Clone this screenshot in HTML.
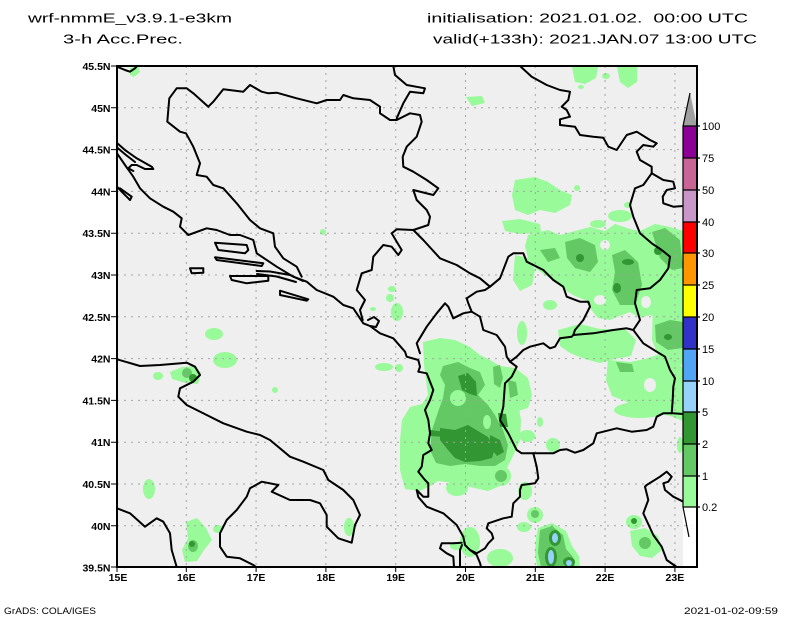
<!DOCTYPE html>
<html><head><meta charset="utf-8"><style>
html,body{margin:0;padding:0;background:#fff;}
svg{display:block;}
text{font-family:"Liberation Sans",sans-serif;fill:#000;}
</style></head><body>
<svg width="800" height="618" viewBox="0 0 800 618" xmlns="http://www.w3.org/2000/svg">
<rect x="0" y="0" width="800" height="618" fill="#fff"/>
<!-- header -->
<text x="28" y="22.5" font-size="13" textLength="204" lengthAdjust="spacingAndGlyphs">wrf-nmmE_v3.9.1-e3km</text>
<text x="63" y="43.5" font-size="13" textLength="120" lengthAdjust="spacingAndGlyphs">3-h Acc.Prec.</text>
<text x="427" y="22.5" font-size="13" textLength="321" lengthAdjust="spacingAndGlyphs">initialisation: 2021.01.02.&#160; 00:00 UTC</text>
<text x="433" y="43.5" font-size="13" textLength="324" lengthAdjust="spacingAndGlyphs">valid(+133h): 2021.JAN.07 13:00 UTC</text>

<!-- map background -->
<rect x="117" y="66" width="580" height="501" fill="#efefef"/>
<rect x="683" y="507" width="14" height="60" fill="#fff"/>

<!-- precipitation: light green -->
<g fill="#98fa98">
<path d="M423,342 L440,338 L455,340 L470,347 L480,355 L490,360 L500,366 L506,376 L512,388 L518,403 L521,420 L520,440 L513,456 L506,470 L500,486 L488,491 L470,487 L455,483 L438,481 L430,486 L420,491 L405,489 L400,470 L400,440 L402,420 L410,407 L422,404 L428,395 L426,380 L424,365 Z"/>
<path d="M500,366 L515,368 L528,378 L532,395 L528,408 L515,412 L505,400 Z"/>
<path d="M515,180 L535,177 L548,182 L560,190 L572,195 L570,205 L555,213 L540,210 L528,215 L515,210 L512,195 Z"/>
<path d="M502,221 L520,219 L540,224 L541,233 L520,234 L505,231 Z"/>
<path d="M528,235 L548,230 L560,235 L575,231 L590,227 L605,231 L615,224 L630,229 L640,231 L655,224 L670,227 L683,231 L683,300 L670,310 L660,318 L650,315 L640,318 L630,312 L622,315 L610,320 L598,318 L590,308 L585,300 L575,296 L565,290 L555,282 L545,275 L535,268 L528,258 L525,246 Z"/>
<path d="M558,330 L580,324 L600,329 L625,329 L636,340 L631,356 L615,359 L600,363 L585,359 L570,353 L560,346 Z"/>
<path d="M608,360 L630,362 L645,359 L660,354 L675,359 L683,368 L683,421 L670,416 L655,413 L640,411 L625,401 L612,396 L606,380 Z"/>
<path d="M653,300 L683,296 L683,365 L660,360 L652,340 Z"/>
<path d="M515,255 L528,258 L535,270 L532,285 L520,291 L513,280 Z"/>
<ellipse cx="522" cy="333" rx="5" ry="12"/>
<ellipse cx="550" cy="305" rx="7" ry="5"/>
<ellipse cx="620" cy="216" rx="12" ry="6"/>
<ellipse cx="598" cy="224" rx="8" ry="4"/>
<ellipse cx="628" cy="205" rx="4" ry="3"/>
<ellipse cx="577" cy="188" rx="3" ry="3"/>
<path d="M572,67 L598,67 L596,78 L585,84 L575,82 Z"/>
<path d="M617,67 L637,67 L637,82 L628,88 L620,82 Z"/>
<path d="M466,97 L482,96 L485,103 L472,106 Z"/>
<ellipse cx="606" cy="76" rx="4" ry="3"/>
<ellipse cx="581" cy="87" rx="3" ry="2"/>
<ellipse cx="640" cy="410" rx="26" ry="8"/>
<!-- greece/albania south -->
<path d="M538,528 L552,523 L566,531 L572,546 L579,556 L580,567 L537,567 L535,553 L536,538 Z"/>
<ellipse cx="524" cy="527" rx="7" ry="5"/>
<ellipse cx="535" cy="515" rx="8" ry="8"/>
<ellipse cx="634" cy="522" rx="8" ry="7"/>
<path d="M630,531 L645,528 L658,536 L662,550 L652,558 L640,556 L632,546 Z"/>
<ellipse cx="470" cy="542" rx="10" ry="15"/>
<ellipse cx="500" cy="558" rx="13" ry="9"/>
<ellipse cx="501" cy="476" rx="10" ry="10"/>
<ellipse cx="525" cy="491" rx="7" ry="9"/>
<ellipse cx="527" cy="436" rx="8" ry="6"/>
<ellipse cx="553" cy="445" rx="7" ry="7"/>
<ellipse cx="540" cy="422" rx="3" ry="5"/>
<ellipse cx="457" cy="488" rx="11" ry="8"/>
<ellipse cx="456" cy="546" rx="6" ry="4"/>
<ellipse cx="680" cy="445" rx="3" ry="8"/>
<!-- italy and adriatic -->
<ellipse cx="214" cy="334" rx="9" ry="6"/>
<ellipse cx="225" cy="360" rx="12" ry="8"/>
<ellipse cx="158" cy="376" rx="5" ry="4"/>
<path d="M170,372 L182,367 L195,366 L201,373 L198,384 L186,383 L172,379 Z"/>
<ellipse cx="149" cy="489" rx="6" ry="10"/>
<path d="M186,522 L197,518 L206,528 L212,540 L204,550 L197,561 L185,562 L182,550 L188,538 Z"/>
<ellipse cx="218" cy="529" rx="5" ry="4"/>
<ellipse cx="275" cy="390" rx="3" ry="3"/>
<path d="M130,68 L138,66 L140,72 L134,77 L130,75 Z"/>
<ellipse cx="349" cy="527" rx="5" ry="9"/>
<ellipse cx="323" cy="232" rx="3" ry="3"/>
<ellipse cx="373" cy="309" rx="3" ry="2"/>
<ellipse cx="392" cy="289" rx="4" ry="3"/>
<ellipse cx="390" cy="298" rx="4" ry="4"/>
<ellipse cx="397" cy="312" rx="6" ry="9"/>
<ellipse cx="384" cy="367" rx="9" ry="4"/>
<ellipse cx="399" cy="368" rx="4" ry="4"/>
</g>
<!-- gray holes in east region -->
<g fill="#efefef">
<ellipse cx="548" cy="284" rx="8" ry="6"/>
<ellipse cx="600" cy="300" rx="6" ry="5"/>
<ellipse cx="646" cy="302" rx="5" ry="6"/>
<ellipse cx="605" cy="245" rx="5" ry="5"/>
<ellipse cx="590" cy="385" rx="8" ry="6"/>
<ellipse cx="650" cy="385" rx="6" ry="7"/>
</g>
<!-- mid green -->
<g fill="#64c864">
<path d="M443,366 L458,362 L470,368 L480,372 L485,385 L478,395 L488,405 L495,415 L503,430 L508,445 L505,460 L495,466 L480,466 L465,464 L450,466 L436,463 L430,450 L432,430 L438,412 L443,398 L445,385 L440,375 Z"/>
<path d="M493,367 L500,365 L503,378 L500,388 L494,384 Z"/>
<path d="M508,380 L516,382 L518,395 L510,398 Z"/>
<path d="M565,242 L580,238 L595,245 L598,262 L590,272 L575,268 L567,258 Z"/>
<path d="M612,255 L625,250 L638,262 L642,285 L635,305 L620,305 L612,290 L615,272 Z"/>
<path d="M652,232 L665,228 L680,240 L683,268 L672,270 L660,258 Z"/>
<path d="M655,325 L670,320 L683,322 L683,348 L668,350 L656,342 Z"/>
<path d="M540,250 L555,248 L560,258 L548,262 Z"/>
<path d="M616,362 L632,364 L634,372 L620,372 Z"/>
<ellipse cx="501" cy="476" rx="6" ry="6"/>
<path d="M540,530 L552,526 L563,535 L566,549 L573,557 L575,567 L541,567 L538,553 Z"/>
<ellipse cx="535" cy="514" rx="4" ry="4"/>
<ellipse cx="645" cy="543" rx="6" ry="6"/>
<ellipse cx="187" cy="373" rx="5" ry="5"/>
<ellipse cx="193" cy="546" rx="5" ry="6"/>
</g>
<!-- holes of light in mid -->
<g fill="#98fa98">
<ellipse cx="458" cy="398" rx="8" ry="8"/>
<ellipse cx="487" cy="422" rx="4" ry="7"/>
</g>
<!-- dark green -->
<g fill="#329632">
<path d="M458,376 L468,373 L476,382 L477,396 L470,394 L462,390 Z"/>
<path d="M440,428 L455,430 L468,425 L478,431 L488,437 L495,448 L492,458 L480,461 L465,462 L455,458 L448,450 L440,440 Z"/>
<path d="M490,435 L500,440 L504,452 L497,456 L490,447 Z"/>
<path d="M498,413 L506,414 L508,427 L500,427 Z"/>
<path d="M430,430 L446,432 L446,437 L430,436 Z"/>
<ellipse cx="580" cy="258" rx="4" ry="4"/>
<ellipse cx="617" cy="288" rx="4" ry="5"/>
<ellipse cx="628" cy="262" rx="6" ry="3"/>
<ellipse cx="658" cy="251" rx="4" ry="4"/>
<ellipse cx="668" cy="337" rx="4" ry="3"/>
<ellipse cx="634" cy="521" rx="3" ry="3"/>
<ellipse cx="555" cy="538" rx="6" ry="8"/>
<ellipse cx="551" cy="557" rx="6" ry="10"/>
<ellipse cx="569" cy="562" rx="6" ry="5"/>
<ellipse cx="193" cy="378" rx="4" ry="4"/>
<ellipse cx="192" cy="544" rx="3" ry="3"/>
</g>
<!-- light blue -->
<g fill="#96d2fa">
<ellipse cx="555" cy="538" rx="3" ry="5"/>
<ellipse cx="551" cy="557" rx="3" ry="7"/>
<ellipse cx="569" cy="563" rx="3" ry="3"/>
</g>

<!-- grid -->
<g stroke="#a4a4a4" stroke-width="1" stroke-dasharray="2 5" fill="none">
<path d="M186.3,66V567 M256.1,66V567 M325.9,66V567 M395.7,66V567 M465.5,66V567 M535.3,66V567 M605.1,66V567 M674.9,66V567"/>
<path d="M117,107.8H697 M117,149.6H697 M117,191.4H697 M117,233.2H697 M117,275H697 M117,316.8H697 M117,358.6H697 M117,400.4H697 M117,442.2H697 M117,484H697 M117,525.8H697"/>
</g>

<!-- map lines -->
<g stroke="#000" stroke-width="2" fill="none" stroke-linejoin="round" stroke-linecap="round">
<path d="M117,66.7 L125,70 L130,71.7 L135,68.3 L137,66"/>
<path d="M301.7,276.7 L296.7,266.7 L283.3,258.3 L275,246.7 L273.3,233.3 L260,228.3 L250,220 L236.7,203.3 L223.3,188.3 L213.3,185 L206.7,176.7 L196.7,175 L200,163.3 L193.3,146.7 L186,133.3 L180,131.7 L167.3,121.7 L169.3,98.3 L176.7,88.3 L186.7,88.3 L193.3,93.3 L208.3,106.7 L213.3,101.7 L223.3,89.3 L243.3,91.7 L250,85 L261.7,91.7 L268.3,93.3 L276.7,92.7 L296.7,98.3 L316.7,103.3 L326.7,100 L340,100 L343.3,95 L353.3,98.3 L370,100 L380,106.7 L380,113.3 L390,120 L396.7,120 L410,113.3 L420,115 L421.7,121.7 L416.7,136.7 L406.7,146.7 L402.7,156.7 L403.3,166.7 L413.3,171.7 L426.7,180 L438.3,188.3 L433.3,195 L413.3,190 L416.7,200 L426.7,210 L430,216.7 L428.3,225 L413.3,230 L396.7,229.3 L391.7,233.3 L396.7,241.7 L401.7,250 L398.3,255 L391.7,246.7 L383.3,245 L373.3,256.7 L371.7,270 L361.7,273.3 L356.7,290 L365,300 L360,310 L362.7,320"/>
<path d="M393.3,66 L395,75 L406.7,85 L425,88.3 L423.3,93.3 L410,91.7 L403.3,103.3 L396.7,118.3"/>
<path d="M117,153.3 L125,165 L133.3,176.7 L140,188.3 L150,198.3 L163.3,206.7 L173.3,211.7 L181.7,218.3 L180,226.7 L188.3,235 L206.7,228.3 L216.7,230 L230,235 L240,235 L253.3,240 L256.7,253.3 L276.7,266.7 L293.3,276.7 L306.7,281.7 L316.7,290 L333.3,296.7 L343.3,305 L353.3,308.3 L363.3,323.3 L370,326 L380,333.3 L393.3,338.3 L405,351.7 L406.7,356.7 L418.3,360 L420,366.7 L418.3,371.7 L426.7,373.3 L433.3,390 L430,400 L425,410 L428.3,420 L430,433.3 L428.3,443.3 L431.7,450 L423.3,455 L421.7,466.7 L418.3,471.7 L425,480 L428.3,483.3 L428.3,496.7 L423.3,496.7 L416.7,490 L418.3,497 L426.7,506.7 L443.3,513.3 L456.7,525 L463.3,536.7 L465,545 L470,550 L476.7,555 L480,563 L481,567"/>
<path d="M461.7,542.7 L453.3,543.3 L441.7,543.3 L440,548.3 L446.7,553.3 L453.3,556.7 L454,567 M460,567 L460,550 L462,545"/>
<path d="M368,320 L374,317 L379,321 L376,327 L370,326"/>
<path d="M256.7,271 L270,271.5 L290,275 L303,281 M257,274 L276.7,276.5 L296,282"/>
<!-- islands -->
<path d="M117,186.7 L121.7,191.7 L130,200 L131.7,196.7 L120,188.3"/>
<path d="M117,143 L125,150 L136.7,158.3 L151.7,166.7 L153.3,169 L145,169 L136.7,165 L131.7,165 L128.3,168.3 L133.3,171"/>
<path d="M117,147.5 L126,155 L135,162"/>
<path d="M215,242.7 L246.7,245 L248.3,250 L245,253.3 L218.3,250 Z"/>
<path d="M215,257.3 L263.3,263.3 L261.7,266 L216.7,260 Z"/>
<path d="M190,268.3 L203.3,268.3 L203.3,272.7 L191.7,273.3 Z"/>
<path d="M230,276 L268.3,276 L268.3,280.7 L246.7,283.3 L231.7,280 Z"/>
<path d="M280,290.7 L308.3,299.3 L306.7,300.7 L280,295 Z"/>
<!-- Montenegro / Serbia / Kosovo / Albania / Macedonia -->
<path d="M420,353.3 L416.7,343.3 L426.7,326.7 L436.7,313.3 L445,303.3 L448.3,306.7 L453.3,318.3 L463.3,313.3 L471.7,311.7 L480,316.7"/>
<path d="M413.3,230 L423.3,240 L440,258.3 L456.7,265 L470,273.3 L480,278.3 L490,286.7 L485,290 L476.7,291.7 L466.7,298.3 L468.3,303.3 L471.7,311.7"/>
<path d="M490,286.7 L500,278.3 L508.3,256.7 L513.3,253.3 L523.3,253.3 L526.7,261.7 L543.3,270 L553.3,280 L563.3,286.7 L566.7,296.7 L580,301.7 L588.3,301.7 L590,306.7 L583.3,320 L575,330 L573.3,335"/>
<path d="M573.3,335 L571.7,336.7 L560,338.3 L555,346.7 L550,348.3 L543.3,343.3 L530,346.7 L523.3,350 L516.7,356.7 L510,361.7"/>
<path d="M480,316.7 L483.3,330 L496.7,335 L505,346.7 L506.7,356.7 L510,361.7"/>
<path d="M510,361.7 L516.7,366.7 L511.7,376.7 L505,383.3 L503.3,406.7 L500,420 L508.3,433.3 L513.3,443.3 L516.7,450 L521.7,453.3 L533.3,453.3"/>
<path d="M533.3,453.3 L536.7,466.7 L538.3,478.3 L535,483.3 L521.7,485 L520,490 L520,496.7 L513.3,503.3 L511.7,516.7 L503.3,518.3 L488.3,523.3 L486.7,528.3 L491.7,533.3 L493.3,538.3 L488.3,543.3 L485,548.3 L476.7,553.3 L470,550"/>
<path d="M533.3,453.3 L553.3,453.3 L560,450 L566.7,449.3 L575,452.7 L583.3,450 L593.3,443.3 L596.7,433.3 L603.3,431.7 L616.7,428.3 L631.7,431.7 L646.7,430 L653.3,426.7 L656.7,416.7 L663.3,413.3 L672.7,413.3 L683.3,414 L697,414"/>
<path d="M573.3,335 L593.3,333.3 L613.3,330 L626.7,328.3 L633.3,330 L643.3,343.3 L656.7,351.7 L665,356.7 L670,370 L675,378.3 L673.3,386.7 L672.7,400 L671.7,413.3"/>
<path d="M651.7,173.3 L643.3,185 L635,188.3 L630,205 L633.3,216.7 L640,233.3 L651.7,243.3 L661.7,250 L670,256.7 L668.3,268.3 L660,280 L650,288.3 L636.7,290 L635,303.3 L640,320 L633.3,330"/>
<path d="M520,66 L531.7,76.7 L546.7,85 L560,90 L570,91.7 L568.3,100 L561.7,106.7 L566.7,110 L570,116.7 L560,119.3 L560,125 L575,126.7 L580,135 L593.3,136.7 L603.3,137.7 L608.3,146.7 L616.7,150 L626.7,135 L636.7,131.7 L650,140 L656.7,143.3 L653.3,146.7 L643.3,145 L636.7,151.7 L640,160 L651.7,166.7 L651.7,173.3 L663.3,180 L673.3,181.7 L675,188.3 L666.7,190 L662.7,196.7 L663.3,203.3 L673.3,206.7 L683.3,206 L697,203.3"/>
<path d="M645,486.7 L646.7,485 L660,476.7 L666.7,471.7 L671.7,476.7 L668.3,481.7 L663.3,483.3 L665,490 L673.3,496.7 L683.3,501.7"/>
<path d="M645,486.7 L648.3,500 L643.3,513.3 L653.3,535 L661.7,546.7 L666.7,560 L676.7,567"/>
<!-- Italy -->
<path d="M117,359.3 L140,366 L160,365 L186.7,362.7 L195,366.7 L200,375 L193.3,381.7 L180,388.3 L178.3,396.7 L186.7,405 L206.7,415 L223.3,423.3 L246.7,431.7 L260,435 L270,440 L290,456.7 L303.3,461.7 L323.3,470 L328.3,480 L343.3,490 L353.3,500 L360,515 L355,525 L351.7,542.7 L338.3,538.3 L326.7,526.7 L326.7,515 L320,503.3 L310,500 L290,500 L271.7,491.7 L278.3,485 L261.7,481.7 L250,488.3 L246.7,496.7 L236.7,510 L226.7,520 L220,533.3 L220,546.7 L226.7,556.7 L240,558.3 L253.3,565 L256,567"/>
<path d="M117,508.3 L130,513.3 L145,526.7 L156.7,518.3 L163.3,521.7 L170,533.3 L171.7,550 L176.7,567"/>
</g>

<!-- colorbar -->
<g stroke="none">
<path d="M683,126 L697,126 L690,93 Z" fill="#a0a0a0"/>
<rect x="683" y="126" width="14" height="32" fill="#8c0096"/>
<rect x="683" y="158" width="14" height="32" fill="#c86496"/>
<rect x="683" y="190" width="14" height="32" fill="#c896c8"/>
<rect x="683" y="222" width="14" height="31" fill="#ff0000"/>
<rect x="683" y="253" width="14" height="32" fill="#ff9600"/>
<rect x="683" y="285" width="14" height="32" fill="#ffff00"/>
<rect x="683" y="317" width="14" height="32" fill="#3232c8"/>
<rect x="683" y="349" width="14" height="32" fill="#50a5f5"/>
<rect x="683" y="381" width="14" height="31" fill="#96d2fa"/>
<rect x="683" y="412" width="14" height="32" fill="#329632"/>
<rect x="683" y="444" width="14" height="32" fill="#64c864"/>
<rect x="683" y="476" width="14" height="31" fill="#98fa98"/>
<path d="M683,507 L697,507 L690,537 Z" fill="#fff"/>
</g>
<g stroke="#000" stroke-width="1.2" fill="none">
<path d="M683,126 L690,93 M683,507 L689,537"/>
<path d="M683,126 V507"/>
<path d="M683,126H700 M683,158H700 M683,190H700 M683,222H700 M683,253H700 M683,285H700 M683,317H700 M683,349H700 M683,381H700 M683,412H700 M683,444H700 M683,476H700 M683,507H700"/>
</g>
<g font-size="11">
<text x="702" y="130">100</text>
<text x="702" y="162">75</text>
<text x="702" y="194">50</text>
<text x="702" y="226">40</text>
<text x="702" y="257">30</text>
<text x="702" y="289">25</text>
<text x="702" y="321">20</text>
<text x="702" y="353">15</text>
<text x="702" y="385">10</text>
<text x="702" y="416">5</text>
<text x="702" y="448">2</text>
<text x="702" y="480">1</text>
<text x="702" y="511">0.2</text>
</g>

<!-- frame -->
<rect x="117" y="66" width="580" height="501" fill="none" stroke="#000" stroke-width="2"/>
<!-- ticks -->
<g stroke="#000" stroke-width="1">
<path d="M111,66H117 M111,107.8H117 M111,149.6H117 M111,191.4H117 M111,233.2H117 M111,275H117 M111,316.8H117 M111,358.6H117 M111,400.4H117 M111,442.2H117 M111,484H117 M111,525.8H117 M111,567H117"/>
<path d="M117,567V572 M186.3,567V572 M256.1,567V572 M325.9,567V572 M395.7,567V572 M465.5,567V572 M535.3,567V572 M605.1,567V572 M674.9,567V572"/>
</g>
<g font-size="10.5" font-weight="bold" text-anchor="end">
<text x="110.5" y="70">45.5N</text>
<text x="110.5" y="111.8">45N</text>
<text x="110.5" y="153.6">44.5N</text>
<text x="110.5" y="195.4">44N</text>
<text x="110.5" y="237.2">43.5N</text>
<text x="110.5" y="279">43N</text>
<text x="110.5" y="320.8">42.5N</text>
<text x="110.5" y="362.6">42N</text>
<text x="110.5" y="404.4">41.5N</text>
<text x="110.5" y="446.2">41N</text>
<text x="110.5" y="488">40.5N</text>
<text x="110.5" y="529.8">40N</text>
<text x="110.5" y="571.5">39.5N</text>
</g>
<g font-size="10.5" font-weight="bold" text-anchor="middle">
<text x="118" y="581">15E</text>
<text x="186.3" y="581">16E</text>
<text x="256.1" y="581">17E</text>
<text x="325.9" y="581">18E</text>
<text x="395.7" y="581">19E</text>
<text x="465.5" y="581">20E</text>
<text x="535.3" y="581">21E</text>
<text x="605.1" y="581">22E</text>
<text x="674.9" y="581">23E</text>
</g>
<text x="4" y="614" font-size="9.5" textLength="92" lengthAdjust="spacingAndGlyphs">GrADS: COLA/IGES</text>
<text x="684" y="614" font-size="9.5" textLength="94" lengthAdjust="spacingAndGlyphs">2021-01-02-09:59</text>
</svg>
</body></html>
